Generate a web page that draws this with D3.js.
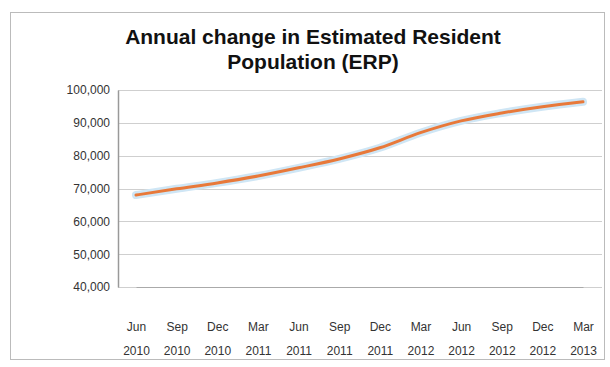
<!DOCTYPE html>
<html>
<head>
<meta charset="utf-8">
<script src="https://cdn.jsdelivr.net/npm/d3@7"></script>
<style>
  html, body { margin: 0; padding: 0; background: #fff; }
  svg { display: block; font-family: "Liberation Sans", Arial, sans-serif; }
</style>
</head>
<body>
<svg id="chart" width="610" height="367"></svg>
<script>
// Quarter labels (two lines each) and annual change in ERP (persons)
const quarters = ["Jun", "Sep", "Dec", "Mar", "Jun", "Sep", "Dec", "Mar", "Jun", "Sep", "Dec", "Mar"];
const years    = ["2010", "2010", "2010", "2011", "2011", "2011", "2011", "2012", "2012", "2012", "2012", "2013"];
const erpChange = [68000, 69900, 71700, 73800, 76300, 79000, 82400, 87000, 90600, 93000, 94900, 96400];
const yTicks = [40000, 50000, 60000, 70000, 80000, 90000, 100000];

const svg = d3.select("#chart");
const W = 610, H = 367;
const margin = { top: 90, right: 22, bottom: 80, left: 118 };

// outer frame
svg.append("rect")
  .attr("x", 10.5).attr("y", 12.5)
  .attr("width", W - 16).attr("height", H - 20)
  .attr("fill", "none").attr("stroke", "#bbb").attr("stroke-width", 1);

// title
const title = svg.append("text")
  .attr("x", 313).attr("y", 44)
  .attr("text-anchor", "middle")
  .attr("font-weight", "bold").attr("font-size", 21).attr("fill", "#111");
title.append("tspan").attr("x", 313).text("Annual change in Estimated Resident");
title.append("tspan").attr("x", 313).attr("dy", 25).text("Population (ERP)");

const x = d3.scalePoint()
  .domain(d3.range(erpChange.length))
  .range([margin.left + 18, W - margin.right - 5]);

const y = d3.scaleLinear()
  .domain([d3.min(yTicks), d3.max(yTicks)])
  .range([H - margin.bottom, margin.top]);

// gridlines
svg.append("g")
  .selectAll("line")
  .data(yTicks)
  .join("line")
  .attr("x1", margin.left).attr("x2", W - margin.right + 14)
  .attr("y1", d => Math.round(y(d)) + 0.5).attr("y2", d => Math.round(y(d)) + 0.5)
  .attr("stroke", "#cfcfcf");

// y axis
const yAxis = svg.append("g")
  .attr("transform", `translate(${margin.left},0)`)
  .call(d3.axisLeft(y).tickValues(yTicks).tickFormat(d3.format(",")).tickSize(0).tickPadding(8));
yAxis.select(".domain").attr("stroke", "#999").attr("stroke-width", 1.5);
yAxis.selectAll("text").attr("font-size", 12).attr("fill", "#333")
  .attr("font-family", "Liberation Sans, Arial, sans-serif");

// x axis labels (two lines)
const xAxis = svg.append("g")
  .attr("transform", `translate(0,${H - margin.bottom})`)
  .call(d3.axisBottom(x).tickSize(0).tickFormat(() => ""));
xAxis.select(".domain").attr("stroke", "#aaa");
xAxis.selectAll(".tick text").remove();
const xl = xAxis.selectAll(".tick").append("text")
  .attr("text-anchor", "middle").attr("font-size", 12).attr("fill", "#333")
  .attr("font-family", "Liberation Sans, Arial, sans-serif");
xl.append("tspan").attr("x", 0).attr("y", 44).text(i => quarters[i]);
xl.append("tspan").attr("x", 0).attr("y", 68).text(i => years[i]);

// series line
const line = d3.line()
  .x((d, i) => x(i))
  .y(d => y(d))
  .curve(d3.curveMonotoneX);

svg.append("path")
  .datum(erpChange)
  .attr("d", line)
  .attr("fill", "none")
  .attr("stroke", "#cfe6f5")
  .attr("stroke-width", 8)
  .attr("stroke-linecap", "round");

svg.append("path")
  .datum(erpChange)
  .attr("d", line)
  .attr("fill", "none")
  .attr("stroke", "#e8793a")
  .attr("stroke-width", 3)
  .attr("stroke-linecap", "round");
</script>
</body>
</html>
